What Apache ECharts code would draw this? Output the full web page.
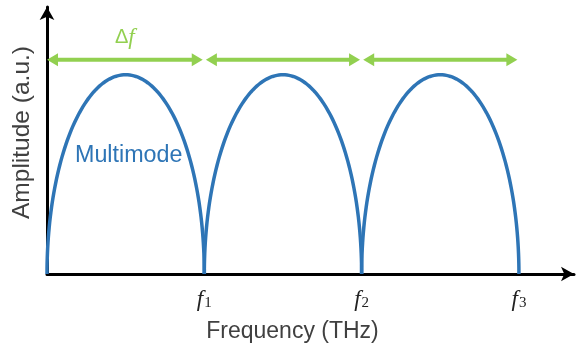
<!DOCTYPE html>
<html>
<head>
<meta charset="utf-8">
<script src="https://cdn.jsdelivr.net/npm/echarts@6/dist/echarts.min.js"></script>
<style>html,body{margin:0;padding:0;background:#fff}#c{width:576px;height:350px}</style>
</head>
<body>
<div id="c"></div>
<script>
// Data
var tickValues = [1, 2, 3];
var tickLabels = ['1', '2', '3'];            // subscripts of f
var archCenters = [0.5, 1.5, 2.5];           // frequency of each mode peak
var archHalfWidths = [0.5, 0.5, 0.5];
var archPeaks = [1, 1, 1];                   // amplitude (a.u.)
var spanStarts = [0.0, 1.01, 2.01];          // Δf double arrows
var spanEnds = [0.99, 1.99, 2.99];
var spanLevel = [1.075, 1.075, 1.075];

var blue = '#2E75B6', green = '#92D050', axisColor = '#000', textColor = '#404040';

var archData = archCenters.map(function (c, i) { return [c, archHalfWidths[i], archPeaks[i]]; });
var spanData = spanStarts.map(function (s, i) { return [s, spanEnds[i], spanLevel[i]]; });

var chart = echarts.init(document.getElementById('c'));
chart.setOption({
  animation: false,
  grid: { left: 47, right: 2, top: 7, bottom: 76 },
  xAxis: {
    type: 'value', min: 0, max: 3.35, interval: 1,
    name: 'Frequency (THz)', nameLocation: 'middle', nameGap: 46,
    nameTextStyle: { fontFamily: 'Liberation Sans', fontSize: 23, color: textColor, padding: [0, 36, 0, 0] },
    axisLine: { show: true, lineStyle: { color: axisColor, width: 3 }, symbol: ['none', 'arrow'], symbolSize: [11, 13] },
    axisTick: { show: false },
    splitLine: { show: false },
    axisLabel: {
      showMinLabel: false, showMaxLabel: false, margin: 14,
      formatter: function (v) {
        var i = tickValues.indexOf(v);
        return i < 0 ? '' : '{f|f}{s|' + tickLabels[i] + '}';
      },
      rich: {
        f: { fontFamily: 'Liberation Serif', fontStyle: 'italic', fontSize: 23, color: '#222' },
        s: { fontFamily: 'Liberation Serif', fontSize: 15, color: '#222', verticalAlign: 'bottom', padding: [8, 0, 0, 1] }
      }
    }
  },
  yAxis: {
    type: 'value', min: 0, max: 1.34,
    name: 'Amplitude (a.u.)', nameLocation: 'middle', nameGap: 12, nameRotate: 90,
    nameTextStyle: { fontFamily: 'Liberation Sans', fontSize: 24.5, color: textColor, padding: [0, 0, 0, 16] },
    axisLine: { show: true, lineStyle: { color: axisColor, width: 3 }, symbol: ['none', 'arrow'], symbolSize: [11, 13] },
    axisTick: { show: false },
    splitLine: { show: false },
    axisLabel: { show: false }
  },
  series: [
    {
      type: 'custom',
      data: archData,
      clip: false,
      renderItem: function (params, api) {
        var c = api.value(0), hw = api.value(1), pk = api.value(2);
        var base = api.coord([c, 0]);
        var left = api.coord([c - hw, 0]);
        var top = api.coord([c, pk]);
        var rx = base[0] - left[0], ry = base[1] - top[1];
        var pts = [];
        var n = 120;
        for (var k = 0; k <= n; k++) {
          var t = Math.PI * k / n;
          pts.push([base[0] - rx * Math.cos(t), base[1] - ry * Math.sin(t)]);
        }
        return { type: 'polyline', shape: { points: pts }, style: { stroke: blue, lineWidth: 3.5, fill: null } };
      },
      z: 3
    },
    {
      type: 'custom',
      data: spanData,
      clip: false,
      renderItem: function (params, api) {
        var a = api.coord([api.value(0), api.value(2)]);
        var b = api.coord([api.value(1), api.value(2)]);
        var L = 11, H = 6.5;
        return {
          type: 'group',
          children: [
            { type: 'line', shape: { x1: a[0] + L - 1, y1: a[1], x2: b[0] - L + 1, y2: b[1] }, style: { stroke: green, lineWidth: 4 } },
            { type: 'polygon', shape: { points: [[a[0], a[1]], [a[0] + L, a[1] - H], [a[0] + L, a[1] + H]] }, style: { fill: green } },
            { type: 'polygon', shape: { points: [[b[0], b[1]], [b[0] - L, b[1] - H], [b[0] - L, b[1] + H]] }, style: { fill: green } }
          ]
        };
      },
      z: 4
    }
  ],
  graphic: [
    { type: 'text', left: 75, top: 144, style: { text: 'Multimode', fontFamily: 'Liberation Sans', fontSize: 23.3, fill: blue } },
    { type: 'text', left: 115, top: 26, style: { text: '{d|Δ}{f|f}', rich: {
        d: { fontFamily: 'Liberation Sans', fontSize: 20, fill: green },
        f: { fontFamily: 'Liberation Serif', fontStyle: 'italic', fontSize: 23, fill: green } } } }
  ]
});
</script>
</body>
</html>
